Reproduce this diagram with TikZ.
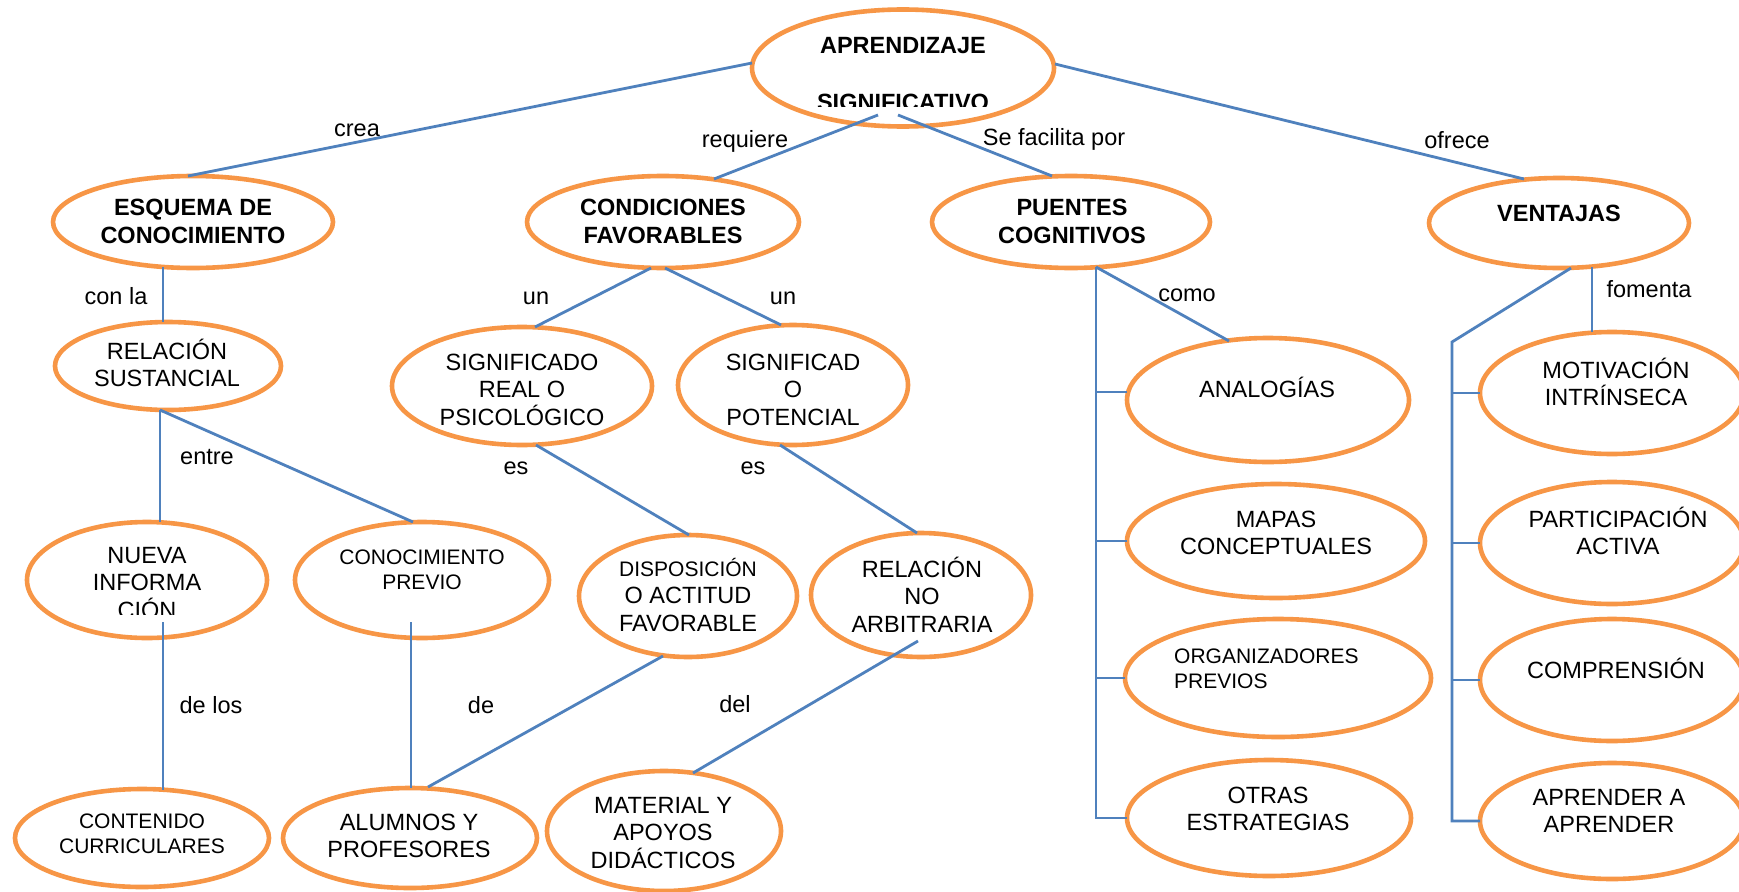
\documentclass[tikz,border=0pt]{standalone}
\usepackage{fontspec}
\setmainfont{Liberation Sans}
\usetikzlibrary{shapes.geometric,calc}
\definecolor{mapOrange}{HTML}{F79646}
\definecolor{mapBlue}{HTML}{4F81BD}
% fixed height for the first line of every concept text
\newcommand\firstline{\rule{0pt}{24pt}}

\begin{document}
\begin{tikzpicture}[x=1pt,y=-1pt,
  concept/.style 2 args={ellipse, draw=mapOrange, line width=4.6pt,
    minimum width=#1pt, minimum height=#2pt, inner sep=0pt, outer sep=0pt},
  hbig/.style={font=\bfseries\fontsize{23.5}{28}\selectfont, align=center, inner sep=0pt, anchor=north},
  tbig/.style={font=\fontsize{23.5}{27.5}\selectfont, align=center, inner sep=0pt, anchor=north},
  tsmall/.style={font=\fontsize{21}{25}\selectfont, align=center, inner sep=0pt, anchor=north},
  lbl/.style={font=\fontsize{23.5}{27.5}\selectfont, inner sep=0pt, anchor=base},
  link/.style={draw=mapBlue, line width=2.8pt}]

\path[use as bounding box, fill=white] (0,0) rectangle (1739,891);
\clip (0,0) rectangle (1739,891);

% ---------- concepts ----------
\node[concept={302}{117}] (apr)  at (903,68)  {};
\node[concept={280}{92}]  (esq)  at (193,222) {};
\node[concept={272}{92}]  (cond) at (663,222) {};
\node[concept={278}{92}]  (pue)  at (1071,222) {};
\node[concept={260}{90}]  (vent) at (1559,223) {};
\node[concept={226}{88}]  (rel)  at (168,366) {};
\node[concept={260}{118}] (sig)  at (522,386) {};
\node[concept={230}{120}] (pot)  at (793,385) {};
\node[concept={240}{116}] (nue)  at (147,580) {};
\node[concept={254}{116}] (con)  at (422,580) {};
\node[concept={218}{122}] (dis)  at (688,596) {};
\node[concept={220}{124}] (rno)  at (921,595) {};
\node[concept={254}{98}]  (cur)  at (142,838) {};
\node[concept={254}{100}] (alu)  at (410,838) {};
\node[concept={234}{120}] (mat)  at (664,831) {};
\node[concept={282}{124}] (ana)  at (1268,400) {};
\node[concept={298}{114}] (map)  at (1276,541) {};
\node[concept={306}{118}] (org)  at (1278,678) {};
\node[concept={284}{116}] (otr)  at (1269,818) {};
\node[concept={264}{122}] (mot)  at (1612,393) {};
\node[concept={264}{122}] (par)  at (1612,543) {};
\node[concept={264}{122}] (com)  at (1612,680) {};
\node[concept={264}{116}] (apa)  at (1612,821) {};

% ---------- connectors ----------
\draw[link] ($(apr)+(-151,-5)$) -- ($(esq)+(-5,-46)$);
\draw[link] ($(apr)+(-25,47)$) -- ($(cond)+(51,-43)$);
\draw[link] ($(apr)+(-5,47)$) -- ($(pue)+(-19,-46)$);
\draw[link] ($(apr)+(152,-4)$) -- ($(vent)+(-35,-44)$);
\draw[link] ($(esq)+(-30,45)$) -- ($(rel)+(-5,-44)$);
\draw[link] ($(rel)+(-8,44)$) -- ($(nue)+(13,-58)$);
\draw[link] ($(rel)+(-8,44)$) -- ($(con)+(-9,-58)$);
\draw[link] ($(nue)+(16,42)$) -- ($(cur)+(21,-48)$);
\draw[link] ($(con)+(-11,42)$) -- ($(alu)+(1,-50)$);
\draw[link] ($(cond)+(-12,46)$) -- ($(sig)+(13,-59)$);
\draw[link] ($(cond)+(2,46)$) -- ($(pot)+(-12,-60)$);
\draw[link] ($(sig)+(14,59)$) -- ($(dis)+(1,-61)$);
\draw[link] ($(pot)+(-13,60)$) -- ($(rno)+(-4,-62)$);
\draw[link] ($(dis)+(-25,60)$) -- ($(alu)+(18,-51)$);
\draw[link] ($(rno)+(-3,46)$) -- ($(mat)+(29,-58)$);

% bracket of PUENTES COGNITIVOS
\coordinate (pspine) at ($(pue)+(25,45)$);
\coordinate (anaTick) at ($(ana.west)+(0,-8)$);
\draw[link] (pspine) |- (otr.west);
\draw[link] (pspine) -- ($(ana)+(-39,-59)$);
\draw[link] (pspine |- anaTick) -- (anaTick);
\draw[link] (pspine |- map.west) -- (map.west);
\draw[link] (pspine |- org.west) -- (org.west);

% bracket of VENTAJAS
\coordinate (vbend) at ($(mot.west)+(-28,-51)$);
\draw[link] ($(vent)+(12,45)$) -- (vbend) |- (apa.west);
\draw[link] (vbend |- mot.west) -- (mot.west);
\draw[link] (vbend |- par.west) -- (par.west);
\draw[link] (vbend |- com.west) -- (com.west);
\draw[link] ($(vent)+(33,44)$) -- ($(mot)+(-20,-61)$);

% ---------- concept texts ----------
\begin{scope}
  \clip (780,0) rectangle (1030,106);
  \node[hbig] (apr-t) at (903,29) {\firstline APRENDIZAJE\\[29.5pt]SIGNIFICATIVO};
\end{scope}
\node[hbig] (esq-t)  at (193,191)  {\firstline ESQUEMA DE\\CONOCIMIENTO};
\node[hbig] (cond-t) at (663,191)  {\firstline CONDICIONES\\FAVORABLES};
\node[hbig] (pue-t)  at (1072,191) {\firstline PUENTES\\COGNITIVOS};
\node[hbig] (vent-t) at (1559,197) {\firstline VENTAJAS};

\node[tbig] (rel-t) at (167,335) {\firstline RELACIÓN\\SUSTANCIAL};
\node[tbig] (sig-t) at (522,346) {\firstline SIGNIFICADO\\REAL O\\PSICOLÓGICO};
\node[tbig] (pot-t) at (793,346) {\firstline SIGNIFICAD\\O\\POTENCIAL};
\begin{scope}
  \clip (40,500) rectangle (260,614);
  \node[tbig] (nue-t) at (147,539) {\firstline NUEVA\\INFORMA\\CIÓN};
\end{scope}
\node[tsmall] (con-t) at (422,540) {\firstline CONOCIMIENTO\\PREVIO};
\node[tbig] (dis-t) at (688,552) {{\fontsize{21}{25}\selectfont\firstline DISPOSICIÓN}\\O ACTITUD\\FAVORABLE};
\node[tbig] (rno-t) at (922,553) {\firstline RELACIÓN\\NO\\ARBITRARIA};
\node[tsmall] (cur-t) at (142,804) {\firstline CONTENIDO\\CURRICULARES};
\node[tbig] (alu-t) at (409,806) {\firstline ALUMNOS Y\\PROFESORES};
\node[tbig] (mat-t) at (663,789) {\firstline MATERIAL Y\\APOYOS\\DIDÁCTICOS};

\node[tbig] (ana-t) at (1267,373) {\firstline ANALOGÍAS};
\node[tbig] (map-t) at (1276,503) {\firstline MAPAS\\CONCEPTUALES};
\node[tsmall, align=left, anchor=north west] (org-t) at (1174,639) {\firstline ORGANIZADORES\\PREVIOS};
\node[tbig] (otr-t) at (1268,779) {\firstline OTRAS\\ESTRATEGIAS};

\node[tbig] (mot-t) at (1616,354) {\firstline MOTIVACIÓN\\INTRÍNSECA};
\node[tbig] (par-t) at (1618,503) {\firstline PARTICIPACIÓN\\ACTIVA};
\node[tbig] (com-t) at (1616,654) {\firstline COMPRENSIÓN};
\node[tbig] (apa-t) at (1609,781) {\firstline APRENDER A\\APRENDER};

% ---------- link words ----------
\node[lbl] (l-crea)  at (357,136)  {crea};
\node[lbl] (l-req)   at (745,147)  {requiere};
\node[lbl] (l-fac)   at (1054,145) {Se facilita por};
\node[lbl] (l-ofr)   at (1457,148) {ofrece};
\node[lbl] (l-conla) at (116,304)  {con la};
\node[lbl] (l-un1)   at (536,304)  {un};
\node[lbl] (l-un2)   at (783,304)  {un};
\node[lbl] (l-como)  at (1187,301) {como};
\node[lbl] (l-fom)   at (1649,297) {fomenta};
\node[lbl] (l-entre) at (207,464)  {entre};
\node[lbl] (l-es1)   at (516,474)  {es};
\node[lbl] (l-es2)   at (753,474)  {es};
\node[lbl] (l-delos) at (211,713)  {de los};
\node[lbl] (l-de)    at (481,713)  {de};
\node[lbl] (l-del)   at (735,712)  {del};
\end{tikzpicture}
\end{document}
